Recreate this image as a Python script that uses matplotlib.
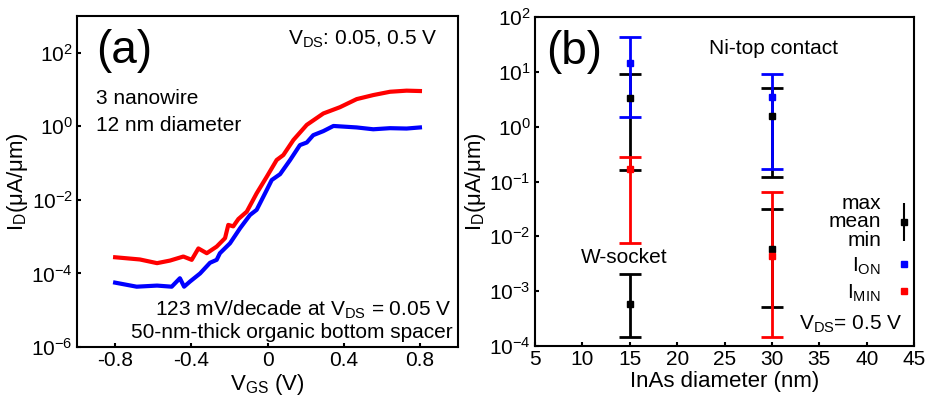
import numpy as np
import matplotlib
matplotlib.use('Agg')
import matplotlib.pyplot as plt
from matplotlib.container import ErrorbarContainer
from matplotlib.legend_handler import HandlerErrorbar
from matplotlib.lines import Line2D

plt.rcParams['font.family'] = ['Liberation Sans', 'DejaVu Sans']
plt.rcParams['mathtext.fontset'] = 'custom'
plt.rcParams['mathtext.rm'] = 'Liberation Sans'
plt.rcParams['mathtext.it'] = 'Liberation Sans:italic'
plt.rcParams['mathtext.default'] = 'regular'

# (a) transfer curves (log10 of I_D)
vgs_hi = [-0.8, -0.67, -0.58, -0.512, -0.442, -0.398, -0.363, -0.319, -0.267, -0.223,
          -0.206, -0.18, -0.153, -0.109, -0.057, -0.004, 0.048, 0.083, 0.136, 0.206,
          0.293, 0.38, 0.468, 0.555, 0.643, 0.73, 0.8]
logid_hi = [-3.56, -3.62, -3.72, -3.65, -3.54, -3.63, -3.32, -3.45, -3.27, -3.04,
            -2.68, -2.72, -2.52, -2.32, -1.82, -1.37, -0.915, -0.78, -0.37, 0.04,
            0.35, 0.52, 0.74, 0.85, 0.94, 0.97, 0.96]
vgs_lo = [-0.8, -0.687, -0.58, -0.503, -0.46, -0.438, -0.407, -0.354, -0.302, -0.267,
          -0.25, -0.197, -0.144, -0.092, -0.057, -0.004, 0.022, 0.066, 0.118, 0.17,
          0.206, 0.24, 0.293, 0.346, 0.468, 0.555, 0.643, 0.73, 0.8]
logid_lo = [-4.25, -4.36, -4.33, -4.36, -4.13, -4.36, -4.22, -4.0, -3.71, -3.63,
            -3.45, -3.18, -2.77, -2.41, -2.27, -1.73, -1.46, -1.30, -0.92, -0.51,
            -0.44, -0.24, -0.13, 0.01, -0.03, -0.08, -0.05, -0.06, -0.03]

# (b) statistics vs diameter
diam = [15, 30]
ion_mean = [14.3, 3.5]
ion_min = [1.48, 0.166]
ion_max = [42.6, 9.1]
imin_mean = [0.166, 0.0043]
imin_min = [0.0076, 1.44e-4]
imin_max = [0.28, 0.065]
wsock_on_mean = [3.3, 1.56]
wsock_on_min = [0.16, 0.119]
wsock_on_max = [9.1, 5.0]
wsock_min_mean = [5.8e-4, 0.006]
wsock_min_min = [1.44e-4, 5.2e-4]
wsock_min_max = [0.0021, 0.032]

FS = 15

fig = plt.figure(figsize=(9.27, 3.95), dpi=100)
ax1 = fig.add_axes([0.0831, 0.1215, 0.411, 0.838])
ax2 = fig.add_axes([0.5771, 0.124, 0.409, 0.833])

for ax in (ax1, ax2):
    for s in ax.spines.values():
        s.set_linewidth(1.5)
    ax.tick_params(direction='in', length=3, width=1.5, labelsize=FS, pad=3)

# ---- panel (a)
ax1.plot(vgs_hi, 10 ** np.array(logid_hi), color='#ff0000', lw=3)
ax1.plot(vgs_lo, 10 ** np.array(logid_lo), color='#0000ff', lw=3)
ax1.set_yscale('log')
ax1.set_xlim(-1, 1)
ax1.set_ylim(1e-6, 1e3)
ax1.set_xticks([-0.8, -0.4, 0, 0.4, 0.8])
ax1.set_xticklabels(['-0.8', '-0.4', '0', '0.4', '0.8'])
ax1.set_yticks([1e-6, 1e-4, 1e-2, 1, 1e2])
ax1.minorticks_off()
ax1.set_xlabel('V$_{GS}$ (V)', fontsize=16, labelpad=1)
ax1.set_ylabel('I$_{D}$(μA/μm)', fontsize=16, labelpad=1)

ax1.text(0.05, 0.895, '(a)', transform=ax1.transAxes, fontsize=33, va='center', ha='left')
ax1.text(0.945, 0.93, 'V$_{DS}$: 0.05, 0.5 V', transform=ax1.transAxes, fontsize=FS,
         va='center', ha='right')
ax1.text(0.05, 0.75, '3 nanowire', transform=ax1.transAxes, fontsize=FS, va='center')
ax1.text(0.05, 0.668, '12 nm diameter', transform=ax1.transAxes, fontsize=FS, va='center')
ax1.text(0.982, 0.112, '123 mV/decade at V$_{DS}$ = 0.05 V', transform=ax1.transAxes,
         fontsize=FS, va='center', ha='right')
ax1.text(0.985, 0.043, '50-nm-thick organic bottom spacer', transform=ax1.transAxes,
         fontsize=FS, va='center', ha='right')

# ---- panel (b)
def err(mean, lo, hi):
    mean = np.array(mean)
    return [mean - np.array(lo), np.array(hi) - mean]

eb_kw = dict(fmt='none', capsize=8, capthick=2, elinewidth=2)
ax2.errorbar(diam, wsock_on_mean, yerr=err(wsock_on_mean, wsock_on_min, wsock_on_max),
             ecolor='black', zorder=2, **eb_kw)
ax2.errorbar(diam, wsock_min_mean, yerr=err(wsock_min_mean, wsock_min_min, wsock_min_max),
             ecolor='black', zorder=2, **eb_kw)
ax2.errorbar(diam, ion_mean, yerr=err(ion_mean, ion_min, ion_max),
             ecolor='#0000ff', zorder=3, **eb_kw)
ax2.errorbar(diam, imin_mean, yerr=err(imin_mean, imin_min, imin_max),
             ecolor='#ff0000', zorder=3, **eb_kw)
ax2.plot(diam, wsock_on_mean, 's', color='black', ms=5, zorder=4)
ax2.plot(diam, wsock_min_mean, 's', color='black', ms=5, zorder=4)
ax2.plot(diam, ion_mean, 's', color='#0000ff', ms=5, zorder=5)
ax2.plot(diam, imin_mean, 's', color='#ff0000', ms=5, zorder=5)

ax2.set_yscale('log')
ax2.set_xlim(5, 45)
ax2.set_ylim(1e-4, 1e2)
ax2.set_xticks(range(5, 50, 5))
ax2.set_yticks([1e-4, 1e-3, 1e-2, 1e-1, 1, 1e1, 1e2])
ax2.minorticks_off()
ax2.set_xlabel('InAs diameter (nm)', fontsize=16, labelpad=1)
ax2.set_ylabel('I$_{D}$(μA/μm)', fontsize=16, labelpad=1)

ax2.text(0.03, 0.895, '(b)', transform=ax2.transAxes, fontsize=33, va='center', ha='left')
ax2.text(0.63, 0.905, 'Ni-top contact', transform=ax2.transAxes, fontsize=FS, va='center', ha='center')
ax2.text(0.235, 0.268, 'W-socket', transform=ax2.transAxes, fontsize=FS, va='center', ha='center')
ax2.text(0.97, 0.065, 'V$_{DS}$= 0.5 V', transform=ax2.transAxes, fontsize=FS,
         va='center', ha='right')

# legend key
leg_eb = ax2.errorbar([], [], yerr=[], fmt='s', color='black', ms=5,
                      capsize=5.5, capthick=1.5, elinewidth=1.5)
h_on = Line2D([], [], marker='s', ls='none', color='#0000ff', ms=4.5)
h_min = Line2D([], [], marker='s', ls='none', color='#ff0000', ms=4.5)
leg = ax2.legend([leg_eb, h_on, h_min], ['max\nmean\nmin', 'I$_{ON}$', 'I$_{MIN}$'],
                 loc='upper right', bbox_to_anchor=(0.995, 0.462), frameon=False,
                 markerfirst=False, fontsize=FS, handlelength=0.8, handletextpad=0.7,
                 labelspacing=0.28, borderaxespad=0.0, borderpad=0.0,
                 handler_map={ErrorbarContainer: HandlerErrorbar(yerr_size=0.9)})
for t in leg.get_texts():
    t.set_multialignment('right')
    t.set_linespacing(0.96)

fig.savefig('out.png', dpi=100)
